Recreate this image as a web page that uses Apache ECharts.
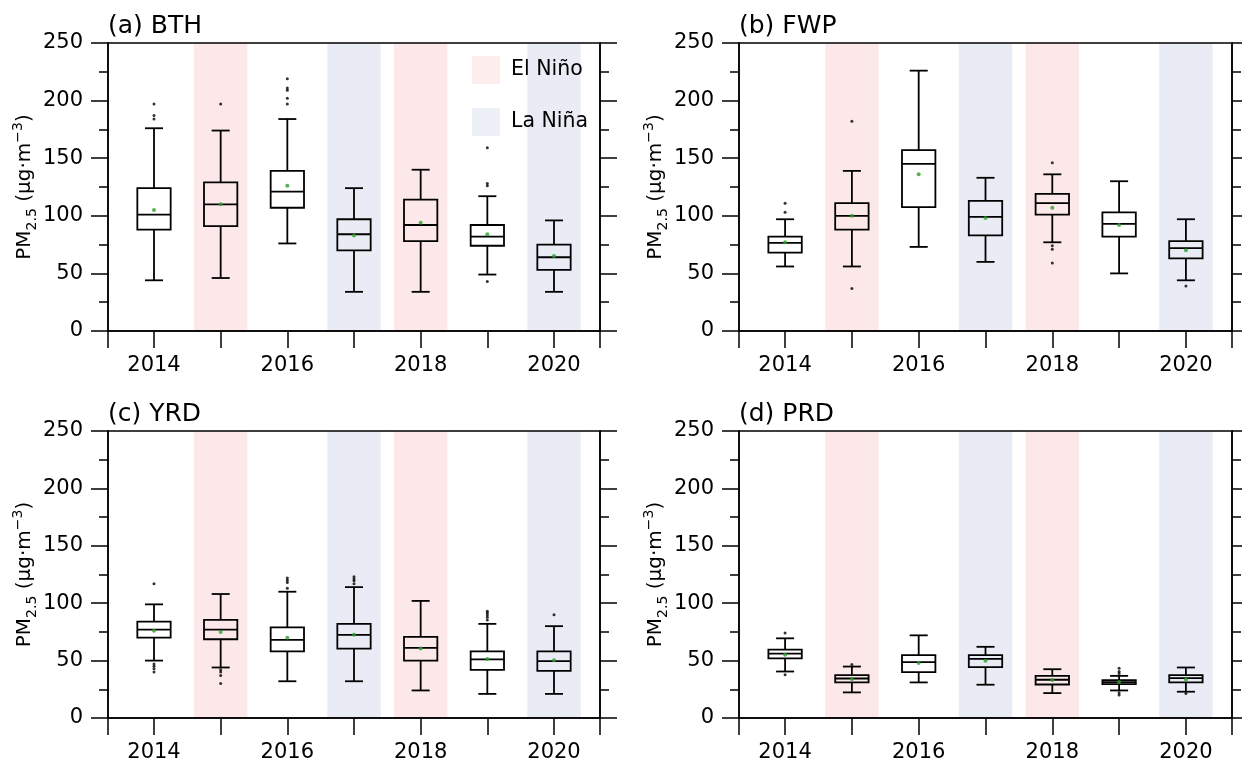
<!DOCTYPE html>
<html>
<head>
<meta charset="utf-8">
<script src="https://cdn.jsdelivr.net/npm/echarts@6/dist/echarts.min.js"></script>
<style>
html,body{margin:0;padding:0;background:#fff;}
#chart{width:1242px;height:763px;}
</style>
</head>
<body>
<div id="chart"></div>
<script>
// ---------------- DATA ----------------
const years = [2014, 2015, 2016, 2017, 2018, 2019, 2020];
const xTickLabels = ['2014', '2016', '2018', '2020'];
const yTicks = [0, 50, 100, 150, 200, 250];
const elNinoYears = [2015, 2018];
const laNinaYears = [2017, 2020];

// [lower whisker, Q1, median, Q3, upper whisker] per year
const bthStats = [[44,88,101,124,176],[46,91,110,129,174],[76,107,121,139,184],[34,70,84,97,124],[34,78,92,114,140],[49,74,82,92,117],[34,53,64,75,96]];
const bthMeans = [105,110,126,83,94,84,65];
const bthOutliers = [[2014,197],[2014,187],[2014,184],[2015,197],[2016,219],[2016,211],[2016,209],[2016,202],[2016,197],[2019,159],[2019,128],[2019,126],[2019,43]];

const fwpStats = [[56,68,76.5,82,97],[56,88,100,111,139],[73,107.5,145,157,226],[60,83,99,113,133],[77,101,111,119,136],[50,82,93,103,130],[44,63,72,78,97]];
const fwpMeans = [77,100,136,98,107,92,70];
const fwpOutliers = [[2014,111],[2014,103],[2015,182],[2015,37],[2018,146],[2018,74],[2018,71],[2018,59],[2020,39]];

const yrdStats = [[50,70,77,84,99],[44,68.6,77,85.4,108],[32,58,68,79,110],[32,60.5,72.4,82,114],[24,50,61,70.6,102],[21,42,51,58,82],[21,41,49.5,58,80]];
const yrdMeans = [76,75,70,72.6,60.5,51.5,50.4];
const yrdOutliers = [[2014,117],[2014,47],[2014,45],[2014,43],[2014,40],[2015,42],[2015,40],[2015,37],[2015,30],[2016,122],[2016,120],[2016,118],[2016,113],[2017,123],[2017,121],[2017,119.5],[2017,117],[2019,93],[2019,91.5],[2019,89.7],[2019,87.7],[2019,85.4],[2020,90]];

const prdStats = [[40.5,52,56,59.6,69.4],[22.3,31,34.4,37.3,44.8],[31,40,48.6,54.7,72],[29,44.3,51.5,54.7,62],[21.7,29.2,33.3,36.7,42.5],[24,29.5,31.3,33,36.7],[22.9,31,34.7,37.3,44]];
const prdMeans = [55,34,48,49.8,33,31.3,33.6];
const prdOutliers = [[2014,74],[2014,37.6],[2015,46.5],[2019,43.4],[2019,40.5],[2019,38.8],[2019,22],[2019,20],[2020,21.4]];

const panelTitles = ['(a) BTH', '(b) FWP', '(c) YRD', '(d) PRD'];
// -------------------------------------

const FONT = 'DejaVu Sans';
const panels = [
  {stats: bthStats, means: bthMeans, outliers: bthOutliers},
  {stats: fwpStats, means: fwpMeans, outliers: fwpOutliers},
  {stats: yrdStats, means: yrdMeans, outliers: yrdOutliers},
  {stats: prdStats, means: prdMeans, outliers: prdOutliers}
];
const gridPos = [
  {left: 108, top: 43, width: 492, height: 288},
  {left: 739, top: 43, width: 493, height: 288},
  {left: 108, top: 431, width: 492, height: 287},
  {left: 739, top: 431, width: 493, height: 287}
];
const titleCenters = [[108, 26], [739, 26], [108, 414], [739, 414]];
const EL_COLOR = '#fce8e8';
const LA_COLOR = '#e9ecf5';
const LW = 1.5;
const BLW = 1.8;

function renderBox(params, api) {
  const x = api.value(0);
  const lo = api.value(1), q1 = api.value(2), med = api.value(3), q3 = api.value(4), hi = api.value(5);
  const pMed = api.coord([x, med]);
  const pLo = api.coord([x, lo]), pQ1 = api.coord([x, q1]), pQ3 = api.coord([x, q3]), pHi = api.coord([x, hi]);
  const hw = api.size([0.25, 0])[0];
  const cw = api.size([0.135, 0])[0];
  const cx = pMed[0];
  const st = {stroke: '#000', lineWidth: BLW, fill: null};
  return {
    type: 'group',
    children: [
      {type: 'rect', shape: {x: cx - hw, y: pQ3[1], width: 2 * hw, height: pQ1[1] - pQ3[1]}, style: {stroke: '#000', lineWidth: BLW, fill: 'rgba(0,0,0,0)'}},
      {type: 'line', shape: {x1: cx - hw, y1: pMed[1], x2: cx + hw, y2: pMed[1]}, style: st},
      {type: 'line', shape: {x1: cx, y1: pQ3[1], x2: cx, y2: pHi[1]}, style: st},
      {type: 'line', shape: {x1: cx, y1: pQ1[1], x2: cx, y2: pLo[1]}, style: st},
      {type: 'line', shape: {x1: cx - cw, y1: pHi[1], x2: cx + cw, y2: pHi[1]}, style: st},
      {type: 'line', shape: {x1: cx - cw, y1: pLo[1], x2: cx + cw, y2: pLo[1]}, style: st}
    ]
  };
}

const grids = [], xAxes = [], yAxes = [], series = [], titles = [];
const axisColor = '#000';

panels.forEach((p, i) => {
  grids.push(Object.assign({show: true, borderColor: '#000', borderWidth: LW, backgroundColor: 'transparent', z: 10}, gridPos[i]));
  titles.push({
    text: panelTitles[i], left: titleCenters[i][0], top: titleCenters[i][1] - 14, padding: 0,
    textStyle: {fontFamily: FONT, fontSize: 25, fontWeight: 'normal', color: '#000', lineHeight: 28}
  });
  xAxes.push({
    type: 'value', gridIndex: i, min: 2013.31, max: 2020.69,
    splitNumber: 7, minInterval: 1, maxInterval: 1, z: 10,
    axisLine: {show: true, lineStyle: {color: axisColor, width: LW}},
    axisTick: {show: true, length: 17, lineStyle: {color: axisColor, width: LW}},
    splitLine: {show: false},
    axisLabel: {
      fontFamily: FONT, fontSize: 21, color: '#000', margin: 24,
      formatter: function (v) {
        const r = Math.round(v);
        if (Math.abs(v - r) > 1e-6) return '';
        return xTickLabels.indexOf(String(r)) >= 0 ? String(r) : '';
      }
    }
  });
  const yCommon = {
    type: 'value', gridIndex: i, min: yTicks[0], max: yTicks[yTicks.length - 1], interval: 50, z: 10,
    axisLine: {show: true, lineStyle: {color: axisColor, width: LW}},
    axisTick: {show: true, length: 17, lineStyle: {color: axisColor, width: LW}},
    minorTick: {show: true, splitNumber: 2, length: 9, lineStyle: {color: axisColor, width: LW}},
    splitLine: {show: false}, minorSplitLine: {show: false}
  };
  yAxes.push(Object.assign({}, yCommon, {
    position: 'left',
    axisLabel: {fontFamily: FONT, fontSize: 21, color: '#000', margin: 25},
    name: '{m|PM}{s|2.5}{m| (μg·m}{p|−3}{m|)}',
    nameLocation: 'middle', nameRotate: 90, nameGap: 68,
    nameTextStyle: {
      fontFamily: FONT, fontSize: 20, color: '#000',
      rich: {
        m: {fontFamily: FONT, fontSize: 20, color: '#000', lineHeight: 28, verticalAlign: 'middle'},
        s: {fontFamily: FONT, fontSize: 14, color: '#000', lineHeight: 28, verticalAlign: 'bottom'},
        p: {fontFamily: FONT, fontSize: 14, color: '#000', lineHeight: 28, verticalAlign: 'top'}
      }
    }
  }));
  yAxes.push(Object.assign({}, yCommon, {position: 'right', axisLabel: {show: false}}));

  const yl = 2 * i;
  // background bands
  series.push({
    name: 'El Niño', type: 'scatter', xAxisIndex: i, yAxisIndex: yl, data: [[2014, -100]], symbolSize: 0,
    itemStyle: {color: EL_COLOR}, silent: true, z: 0,
    markArea: {silent: true, z: 0, itemStyle: {color: EL_COLOR}, label: {show: false},
      data: elNinoYears.map(y => [{xAxis: y - 0.4}, {xAxis: y + 0.4}])}
  });
  series.push({
    name: 'La Niña', type: 'scatter', xAxisIndex: i, yAxisIndex: yl, data: [[2014, -100]], symbolSize: 0,
    itemStyle: {color: LA_COLOR}, silent: true, z: 0,
    markArea: {silent: true, z: 0, itemStyle: {color: LA_COLOR}, label: {show: false},
      data: laNinaYears.map(y => [{xAxis: y - 0.4}, {xAxis: y + 0.4}])}
  });
  // boxes
  series.push({
    type: 'custom', xAxisIndex: i, yAxisIndex: yl, z: 3, silent: true,
    renderItem: renderBox,
    encode: {x: 0, y: [1, 2, 3, 4, 5]},
    data: years.map((y, k) => [y].concat(p.stats[k]))
  });
  // outliers
  series.push({
    type: 'scatter', xAxisIndex: i, yAxisIndex: yl, z: 4, silent: true,
    symbol: 'circle', symbolSize: 3, itemStyle: {color: '#000'},
    data: p.outliers
  });
  // means
  series.push({
    type: 'scatter', xAxisIndex: i, yAxisIndex: yl, z: 5, silent: true,
    symbol: 'circle', symbolSize: 4, itemStyle: {color: '#2ca02c'},
    data: years.map((y, k) => [y, p.means[k]])
  });
});

const chart = echarts.init(document.getElementById('chart'), null, {renderer: 'canvas'});
chart.setOption({
  animation: false,
  backgroundColor: '#fff',
  textStyle: {fontFamily: FONT},
  title: titles,
  legend: {
    data: ['El Niño', 'La Niña'], left: 472, top: 56, orient: 'vertical',
    itemWidth: 28, itemHeight: 28, itemGap: 24, icon: 'rect', selectedMode: false,
    padding: 0,
    textStyle: {fontFamily: FONT, fontSize: 20.5, color: '#000', padding: [0, 0, 0, 6]}
  },
  grid: grids,
  xAxis: xAxes,
  yAxis: yAxes,
  series: series
});
</script>
</body>
</html>
